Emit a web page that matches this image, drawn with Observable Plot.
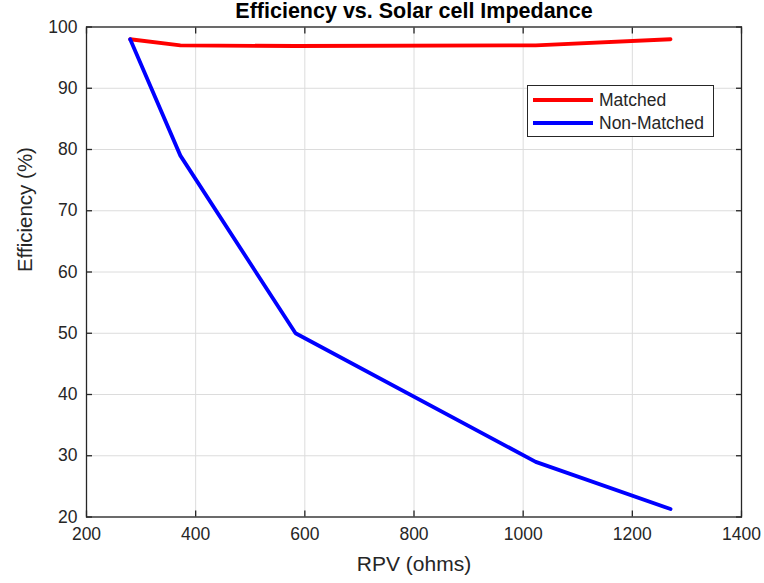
<!DOCTYPE html>
<html><head><meta charset="utf-8">
<script src="https://cdn.jsdelivr.net/npm/d3@7"></script>
<script src="https://cdn.jsdelivr.net/npm/@observablehq/plot@0.6"></script>
<style>
body{margin:0;background:#fff;font-family:"Liberation Sans",Arial,sans-serif;}
#wrap{position:relative;width:764px;height:583px;}
#legend{position:absolute;left:527px;top:85px;width:187px;height:52px;border:1px solid #262626;background:#fff;box-sizing:border-box;font-size:17.5px;color:#262626;}
.row{position:absolute;left:5px;height:22px;display:flex;align-items:center;}
.sw{width:60px;height:4px;margin-right:6px;}
</style></head>
<body><div id="wrap"><div id="legend"></div></div>
<script>
const rpv = [280, 372, 583, 1023, 1270];
const matched = [98, 97, 96.9, 97, 98];
const nonMatched = [98, 79, 50, 29, 21.3];
const xTicks = [200, 400, 600, 800, 1000, 1200, 1400];
const yTicks = [20, 30, 40, 50, 60, 70, 80, 90, 100];
const seriesNames = ["Matched", "Non-Matched"];
const seriesColors = ["#ff0000", "#0000ff"];

const rows = [];
rpv.forEach((x, i) => {
  rows.push({x, y: matched[i], s: seriesNames[0]});
  rows.push({x, y: nonMatched[i], s: seriesNames[1]});
});

const chart = Plot.plot({
  width: 764, height: 583,
  marginLeft: 86, marginRight: 23, marginTop: 26.5, marginBottom: 66.5,
  style: {fontFamily: '"Liberation Sans", Arial, sans-serif', fontSize: "17px", color: "#262626", background: "#fff"},
  x: {domain: [200, 1400], ticks: xTicks, label: "RPV (ohms)"},
  y: {domain: [20, 100], ticks: yTicks, label: "Efficiency (%)"},
  color: {domain: seriesNames, range: seriesColors},
  marks: [
    Plot.gridX(xTicks, {stroke: "#dcdcdc", strokeOpacity: 1}),
    Plot.gridY(yTicks, {stroke: "#dcdcdc", strokeOpacity: 1}),
    Plot.frame({stroke: "#262626", strokeWidth: 1.3}),
    Plot.axisX(xTicks, {anchor: "bottom", tickSize: -6, tickPadding: 17, tickFormat: d => String(d), stroke: "#262626", strokeWidth: 1.3, fontSize: 17.5, label: null}),
    Plot.axisX(xTicks, {anchor: "top", tickSize: -6, stroke: "#262626", strokeWidth: 1.3, text: null, label: null}),
    Plot.axisY(yTicks, {anchor: "left", tickSize: -6, tickPadding: 15, tickFormat: d => String(d), stroke: "#262626", strokeWidth: 1.3, fontSize: 17.5, label: null}),
    Plot.axisY(yTicks, {anchor: "right", tickSize: -6, stroke: "#262626", strokeWidth: 1.3, text: null, label: null}),
    Plot.line(rows, {x: "x", y: "y", stroke: "s", z: "s", strokeWidth: 3.8, strokeLinejoin: "round"}),
    Plot.text(["Efficiency vs. Solar cell Impedance"], {frameAnchor: "top", lineAnchor: "middle", dy: -16, fontWeight: "bold", fontSize: 21.5, fill: "#000"}),
    Plot.text(["RPV (ohms)"], {frameAnchor: "bottom", lineAnchor: "middle", dy: 47, fontSize: 21, fill: "#262626"}),
    Plot.text(["Efficiency (%)"], {frameAnchor: "left", dx: -61, rotate: -90, fontSize: 20.5, fill: "#262626"})
  ]
});
document.getElementById("wrap").prepend(chart);

const lg = document.getElementById("legend");
seriesNames.forEach((n, i) => {
  const r = document.createElement("div");
  r.className = "row";
  r.style.top = (3 + i * 23) + "px";
  r.innerHTML = `<div class="sw" style="background:${seriesColors[i]}"></div><span>${n}</span>`;
  lg.appendChild(r);
});
</script></body></html>
